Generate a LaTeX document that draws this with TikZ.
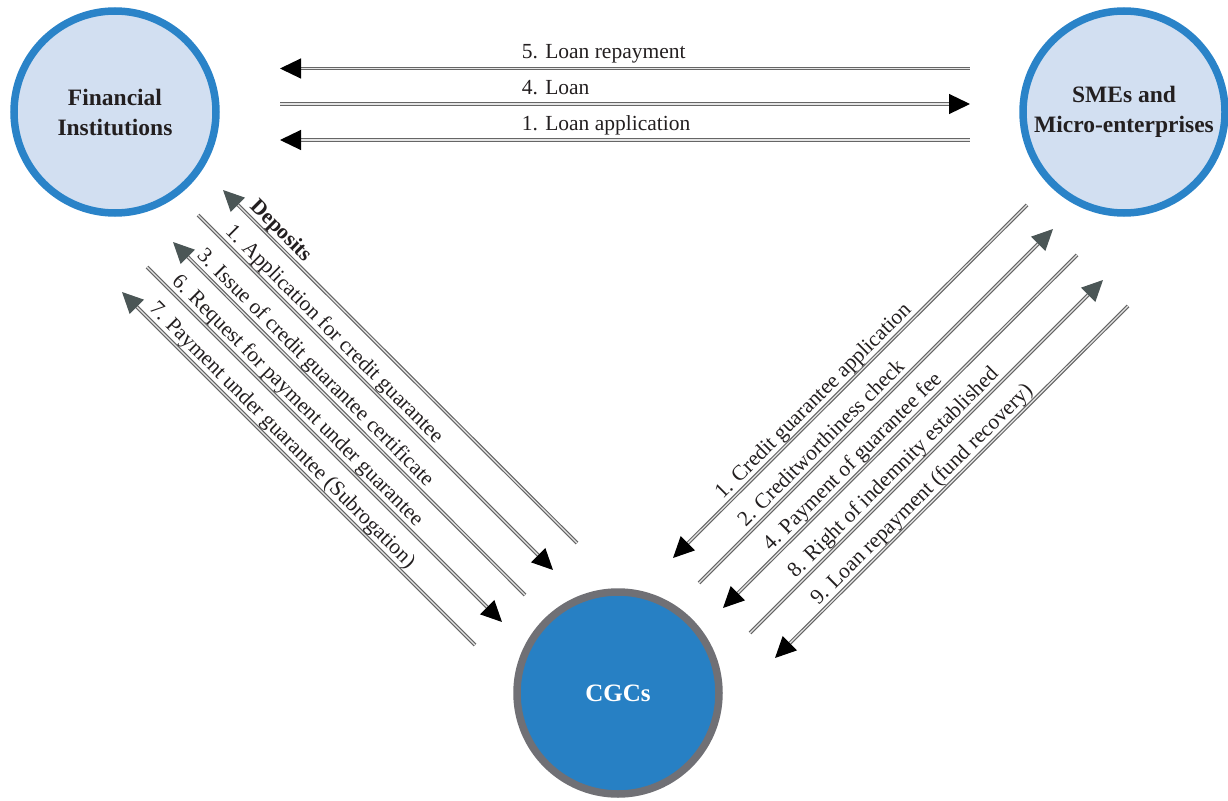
\documentclass[tikz,border=0pt]{standalone}
\usepackage{fontspec}
\setmainfont{Liberation Serif}
\usetikzlibrary{arrows.meta,shadows}

\definecolor{ringblue}{HTML}{2A83C8}
\definecolor{paleblue}{HTML}{D2DFF1}
\definecolor{cgcblue}{HTML}{2780C4}
\definecolor{ringgray}{HTML}{707075}
\definecolor{tipgray}{HTML}{4B5656}
\definecolor{wire}{HTML}{666666}
\definecolor{ink}{HTML}{231F20}

\tikzset{
  party/.style={circle, minimum size=202pt, line width=7.5pt, draw=ringblue, fill=paleblue,
    align=center, text=ink, font=\fontsize{23.5}{30}\selectfont\bfseries,
    drop shadow={opacity=0.18, shadow xshift=2pt, shadow yshift=-2pt}},
  hub/.style={party, draw=ringgray, fill=cgcblue, text=white, font=\fontsize{25}{30}\selectfont\bfseries},
  flow/.style={draw=wire, line width=1.2pt, double=white!90!black, double distance=1.2pt},
  flowlabel/.style={text=ink, font=\fontsize{21.5}{24}\selectfont, text height=0.72em, text depth=0.22em},
  toplabel/.style={flowlabel, anchor=south west, yshift=3.5pt},
  fwd/.style={-{Triangle[length=21pt,width=20pt,fill=#1,color=#1]}},
  bwd/.style={{Triangle[length=21pt,width=20pt,fill=#1,color=#1]}-},
}

\begin{document}
\begin{tikzpicture}[x=1pt,y=-1pt]
    \useasboundingbox (0,0) rectangle (1228,800);

    \node[party] (fi) at (115,112) {Financial\\Institutions};
    \node[party] (sme) at (1124,112) {SMEs and\\Micro-enterprises};
    \node[hub] (cgc) at (618,693) {CGCs};

    % between banks and firms
    \coordinate (fi5) at (280,68.5);  \coordinate (sme5) at (970,68.5);
    \coordinate (fi4) at (280,104);   \coordinate (sme4) at (970,104);
    \coordinate (fi1) at (280,140);   \coordinate (sme1) at (970,140);

    \draw[flow,bwd=black] (fi5) -- (sme5) node[toplabel,pos=0.345]{5. Loan repayment};
    \draw[flow,fwd=black] (fi4) -- (sme4) node[toplabel,pos=0.345]{4. Loan};
    \draw[flow,bwd=black] (fi1) -- (sme1) node[toplabel,pos=0.345]{1. Loan application};

    % between banks and CGCs
    \coordinate (la1) at (223,190);  \coordinate (la2) at (577,543);
    \coordinate (lb1) at (198,215);  \coordinate (lb2) at (553,570);
    \coordinate (lc1) at (173,242);  \coordinate (lc2) at (525,595);
    \coordinate (ld1) at (147,267);  \coordinate (ld2) at (502,622);
    \coordinate (le1) at (122,292);  \coordinate (le2) at (475,645);

    \draw[flow,bwd=tipgray] (la1) -- (la2) node[flowlabel,font=\fontsize{21.5}{24}\selectfont\bfseries,pos=0.14,sloped,above=0pt]{Deposits};
    \draw[flow,fwd=black] (lb1) -- (lb2) node[flowlabel,pos=0.36,sloped,above=0pt]{1. Application for credit guarantee};
    \draw[flow,bwd=tipgray] (lc1) -- (lc2) node[flowlabel,pos=0.38,sloped,above=0pt]{3. Issue of credit guarantee certificate};
    \draw[flow,fwd=black] (ld1) -- (ld2) node[flowlabel,pos=0.40,sloped,above=0pt]{6. Request for payment under guarantee};
    \draw[flow,bwd=tipgray] (le1) -- (le2) node[flowlabel,pos=0.43,sloped,above=0pt]{7. Payment under guarantee (Subrogation)};

    % between firms and CGCs
    \coordinate (ra1) at (673,558);  \coordinate (ra2) at (1027,205);
    \coordinate (rb1) at (699,583);  \coordinate (rb2) at (1053,229);
    \coordinate (rc1) at (723,608);  \coordinate (rc2) at (1077,255);
    \coordinate (rd1) at (750,633);  \coordinate (rd2) at (1103,280);
    \coordinate (re1) at (775,658);  \coordinate (re2) at (1128,306);

    \draw[flow,bwd=black] (ra1) -- (ra2) node[flowlabel,pos=0.42,sloped,above=0pt]{1. Credit guarantee application};
    \draw[flow,fwd=tipgray] (rb1) -- (rb2) node[flowlabel,pos=0.37,sloped,above=0pt]{2. Creditworthiness check};
    \draw[flow,bwd=black] (rc1) -- (rc2) node[flowlabel,pos=0.39,sloped,above=0pt]{4. Payment of guarantee fee};
    \draw[flow,fwd=tipgray] (rd1) -- (rd2) node[flowlabel,pos=0.43,sloped,above=0pt]{8. Right of indemnity established};
    \draw[flow,bwd=black] (re1) -- (re2) node[flowlabel,pos=0.44,sloped,above=0pt]{9. Loan repayment (fund recovery)};
\end{tikzpicture}
\end{document}
